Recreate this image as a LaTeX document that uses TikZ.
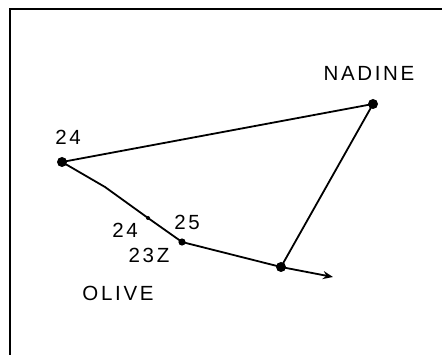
\documentclass[tikz,border=0pt]{standalone}
\usepackage{fontspec}
\setmainfont{Liberation Sans}[LetterSpace=13]
\usetikzlibrary{arrows.meta}
\tikzset{epais/.style={line width=1.8pt}}
\newcommand{\pos}[2]{\fill (#1) circle (#2)}

\begin{document}
\begin{tikzpicture}[x=1pt, y=-1pt,
  every node/.style={font=\fontsize{20.5}{20.5}\selectfont}]
\useasboundingbox (0,0) rectangle (442,355);
%Frame
	\draw[line width=1.5pt] (10,355) -- (10,9) -- (442,9);
%Positions
	\coordinate (dep) at (62,162);
	\coordinate (nad) at (373,104);
	\coordinate (k1) at (105,187);
	\coordinate (k2) at (148,218);
	\coordinate (p25) at (182,242);
	\coordinate (fin) at (281,267);
	\coordinate (bout) at (333,277);
%Tracks
	\draw[epais] (dep) -- (nad) -- (fin);
	\draw[epais] (dep) -- (k1) -- (k2) -- (p25) -- (fin);
	\draw[epais,-{Stealth[length=10pt,width=8pt]}] (fin) -- (bout);
	\pos{dep}{5};
	\pos{nad}{5};
	\pos{fin}{5};
	\pos{p25}{3.6};
	\pos{k2}{2};
%Labels
	\node (l24a) at (68,137) {24};
	\node (lnad) at (369,73) {NADINE};
	\node (l24b) at (125,230) {24};
	\node (l25) at (187,222) {25};
	\node (l23z) at (149,255) {23Z};
	\node (lolive) at (118,293) {OLIVE};
\end{tikzpicture}
\end{document}
